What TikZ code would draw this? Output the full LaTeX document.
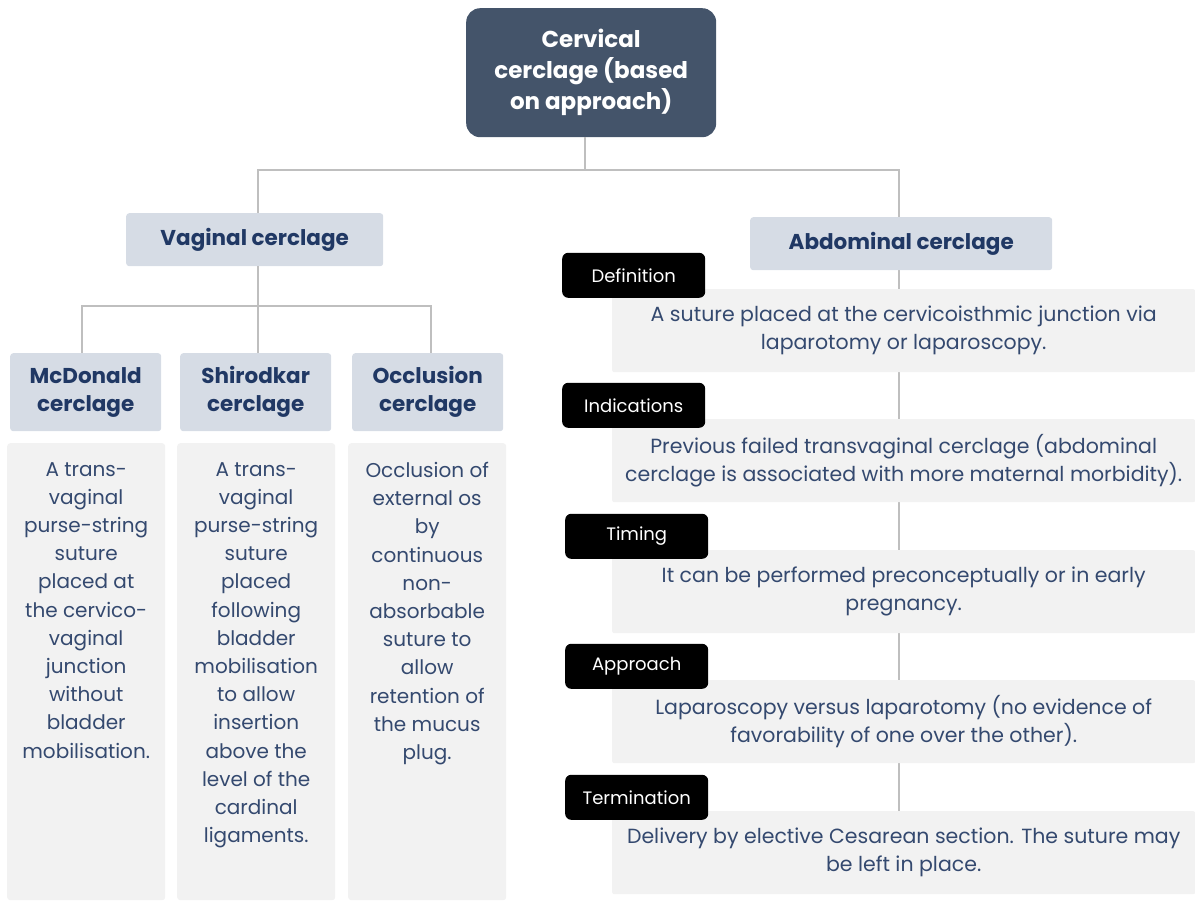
\documentclass[tikz,border=0pt]{standalone}
\usepackage{fontspec}
\setmainfont{Poppins}
\usetikzlibrary{positioning}
\usetikzlibrary{backgrounds}

\definecolor{slate}{HTML}{44546A}
\definecolor{navy}{HTML}{203864}
\definecolor{paleblue}{HTML}{D6DCE5}
\definecolor{palegray}{HTML}{F2F2F2}
\definecolor{linkgray}{HTML}{BFBFBF}
\definecolor{bodyblue}{HTML}{34496F}

\tikzset{
  rootbox/.style={fill=slate, rounded corners=14pt, text=white, align=center,
    font=\bfseries\fontsize{23}{31}\selectfont, inner sep=0pt,
    minimum width=250pt, minimum height=129pt, anchor=north west},
  headbox/.style={fill=paleblue, rounded corners=3pt, text=navy, align=center,
    font=\bfseries\fontsize{21.5}{28}\selectfont, inner sep=0pt, anchor=north west},
  colbox/.style={fill=palegray, rounded corners=3pt, inner sep=0pt,
    minimum width=158pt, minimum height=457pt, anchor=north west},
  coltext/.style={text=bodyblue, align=center, inner sep=0pt,
    font=\fontsize{20}{28.2}\selectfont},
  notebox/.style={fill=palegray, rounded corners=2pt, text=bodyblue, align=center,
    font=\fontsize{20.5}{28.2}\selectfont, inner sep=0pt,
    minimum width=583pt, minimum height=83pt, anchor=north west},
  tagbox/.style={fill=black, rounded corners=6pt, text=white,
    font=\fontsize{18}{20}\selectfont, inner sep=0pt,
    minimum width=143pt, minimum height=45pt, anchor=south west},
  link/.style={draw=linkgray, line width=2pt},
}

\begin{document}
\begin{tikzpicture}[x=1pt, y=-1pt]
\useasboundingbox (0,0) rectangle (1195,901);

%root
\node[rootbox] (root) at (466,8) {Cervical\\cerclage (based\\on approach)};

%first level
\node[headbox, minimum width=257pt, minimum height=53pt] (vag) at (126,213) {Vaginal cerclage};
\node[headbox, minimum width=302pt, minimum height=53pt] (abd) at (750,217) {Abdominal cerclage};

%vaginal types
\node[headbox, minimum width=151pt, minimum height=78pt] (mcd) at (10,353) {McDonald\\cerclage};
\node[headbox, minimum width=151pt, minimum height=78pt] (shi) at (180,353) {Shirodkar\\cerclage};
\node[headbox, minimum width=151pt, minimum height=78pt] (occ) at (352,353) {Occlusion\\cerclage};

%vaginal descriptions
\node[colbox] (mcdbox) at (7,443) {};
\node[coltext, below=19pt of mcdbox.north] (mcdtext) {A trans-\\vaginal\\purse-string\\suture\\placed at\\the cervico-\\vaginal\\junction\\without\\bladder\\mobilisation.};
\node[colbox] (shibox) at (177,443) {};
\node[coltext, below=19pt of shibox.north] (shitext) {A trans-\\vaginal\\purse-string\\suture\\placed\\following\\bladder\\mobilisation\\to allow\\insertion\\above the\\level of the\\cardinal\\ligaments.};
\node[colbox] (occbox) at (348,443) {};
\node[coltext, below=19pt of occbox.north] (occtext) {Occlusion of\\external os\\by\\continuous\\non-\\absorbable\\suture to\\allow\\retention of\\the mucus\\plug.};

%abdominal notes
\node[notebox] (defnote) at (612,289) {A suture placed at the cervicoisthmic junction via\\laparotomy or laparoscopy.};
\node[notebox] (indnote) at (612,419) {Previous failed transvaginal cerclage (abdominal\\cerclage is associated with more maternal morbidity).};
\node[notebox] (timnote) at (612,550) {It can be performed preconceptually or in early\\pregnancy.};
\node[notebox] (appnote) at (612,680) {Laparoscopy versus laparotomy (no evidence of\\favorability of one over the other).};
\node[notebox] (termnote) at (612,811) {Delivery by elective Cesarean section. The suture may\\be left in place.};

%tags
\node[tagbox] (deftag) at ([xshift=-50pt,yshift=-9pt]defnote.north west) {Definition};
\node[tagbox] (indtag) at ([xshift=-50pt,yshift=-9pt]indnote.north west) {Indications};
\node[tagbox] (timtag) at ([xshift=-47pt,yshift=-9pt]timnote.north west) {Timing};
\node[tagbox] (apptag) at ([xshift=-47pt,yshift=-9pt]appnote.north west) {Approach};
\node[tagbox] (termtag) at ([xshift=-47pt,yshift=-9pt]termnote.north west) {Termination};

%connectors
\draw[link] ([xshift=-6pt]root.south) -- ++(0,33) coordinate (rootfork);
\draw[link] ([xshift=3pt]vag.north) |- (rootfork) -| ([xshift=-2pt]abd.north);
\draw[link] ([xshift=3pt]vag.south) -- ++(0,40) coordinate (vagfork);
\draw[link] ([xshift=-4pt]mcd.north) |- (vagfork) -| ([xshift=3pt]occ.north);
\draw[link] (vagfork) -- (vagfork |- shi.north);
\begin{scope}[on background layer]
\draw[link] ([xshift=-2pt]abd.south) -- ([xshift=-2pt]abd.south |- termnote.north);
\end{scope}

\end{tikzpicture}
\end{document}
